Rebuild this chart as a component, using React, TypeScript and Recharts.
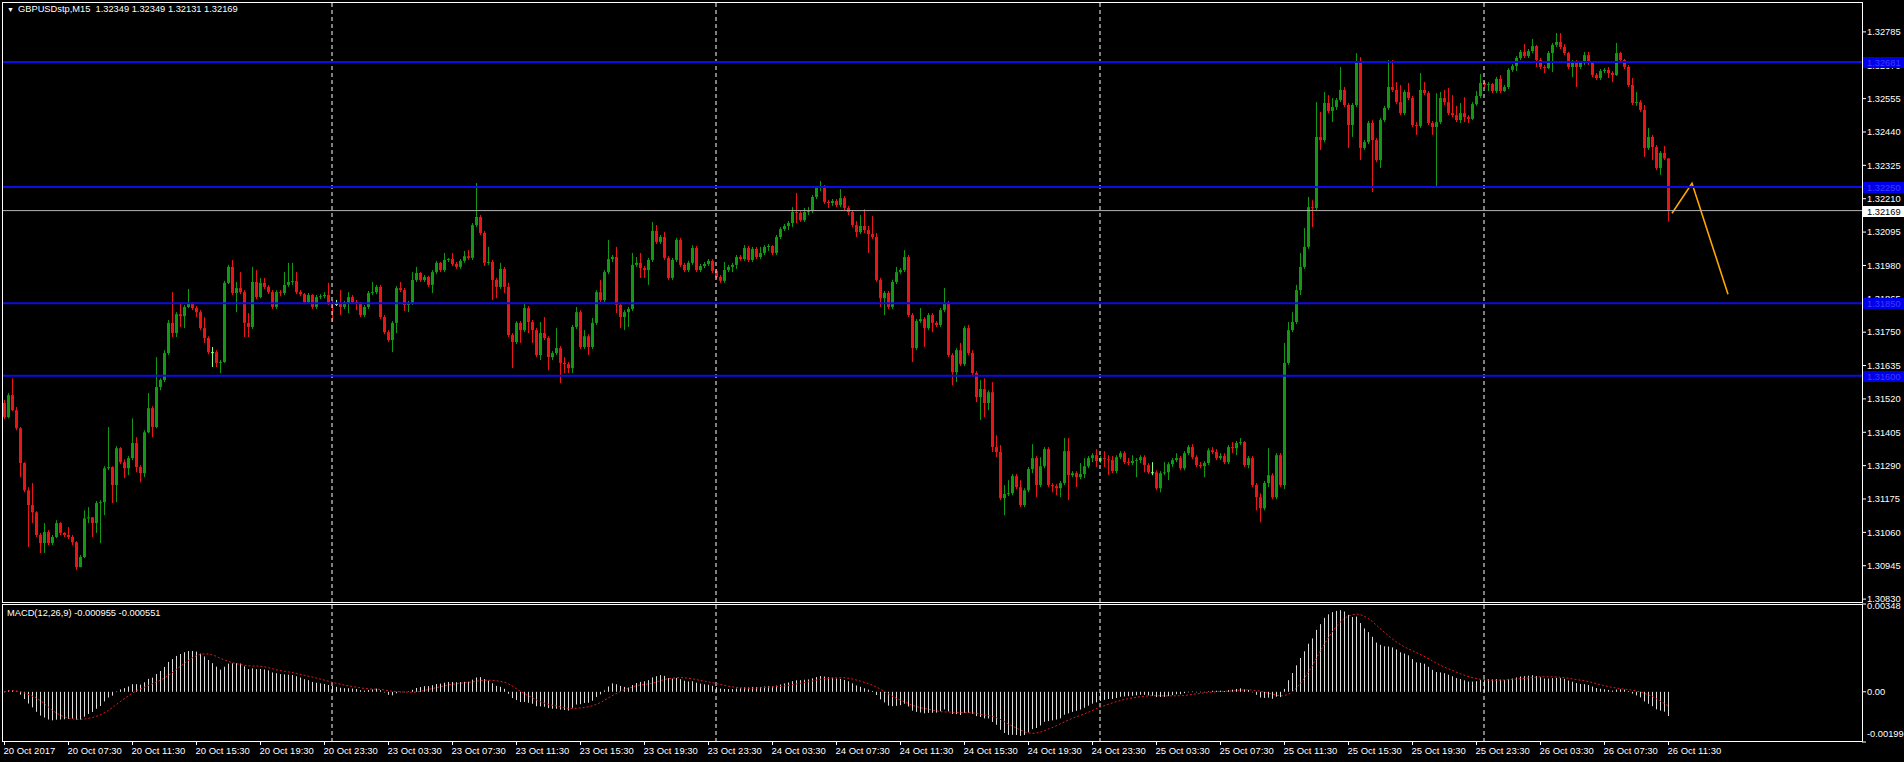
import React from 'react';
import { ComposedChart, Bar, Line, XAxis, YAxis, ReferenceLine } from 'recharts';

// M15 candles, oldest first; bar 0 = 20 Oct 03:30
const firstOpen = 1.31506;
const closes = [
  1.31457, 1.31533, 1.31481, 1.31419, 1.31299, 1.31205, 1.31154, 1.31129, 1.31051, 1.31023,
  1.31061, 1.31023, 1.31044, 1.31092, 1.31058, 1.31051, 1.31044, 1.31026, 1.30940, 1.30975,
  1.31108, 1.31112, 1.31092, 1.31161, 1.31164, 1.31281, 1.31285, 1.31223, 1.31350, 1.31302,
  1.31281, 1.31316, 1.31368, 1.31285, 1.31264, 1.31405, 1.31488, 1.31423, 1.31561, 1.31585,
  1.31678, 1.31782, 1.31747, 1.31812, 1.31805, 1.31837, 1.31851, 1.31833, 1.31819, 1.31764,
  1.31730, 1.31681, 1.31681, 1.31644, 1.31647, 1.31920, 1.31975, 1.31885, 1.31902, 1.31888,
  1.31782, 1.31768, 1.31923, 1.31871, 1.31920, 1.31906, 1.31888, 1.31837, 1.31888, 1.31885,
  1.31913, 1.31923, 1.31926, 1.31888, 1.31881, 1.31854, 1.31878, 1.31837, 1.31871, 1.31874,
  1.31878, 1.31851, 1.31847, 1.31847, 1.31837, 1.31851, 1.31871, 1.31854, 1.31851, 1.31809,
  1.31837, 1.31885, 1.31888, 1.31906, 1.31802, 1.31750, 1.31723, 1.31782, 1.31902, 1.31895,
  1.31844, 1.31851, 1.31930, 1.31954, 1.31930, 1.31940, 1.31913, 1.31957, 1.31989, 1.31964,
  1.31999, 1.32002, 1.31985, 1.31975, 1.31996, 1.32012, 1.32006, 1.32119, 1.32147, 1.32092,
  1.31989, 1.31992, 1.31930, 1.31906, 1.31968, 1.31906, 1.31740, 1.31716, 1.31782, 1.31757,
  1.31833, 1.31785, 1.31757, 1.31671, 1.31747, 1.31730, 1.31664, 1.31678, 1.31695, 1.31644,
  1.31640, 1.31626, 1.31768, 1.31819, 1.31699, 1.31736, 1.31699, 1.31782, 1.31888, 1.31861,
  1.31957, 1.32002, 1.32009, 1.31844, 1.31802, 1.31819, 1.31830, 1.31982, 1.31989, 1.31971,
  1.31964, 1.31999, 1.32099, 1.32061, 1.32078, 1.32006, 1.31937, 1.31999, 1.32068, 1.31982,
  1.31964, 1.31989, 1.32040, 1.31964, 1.31978, 1.31985, 1.31996, 1.31961, 1.31940, 1.31927,
  1.31964, 1.31975, 1.31982, 1.32009, 1.32002, 1.32040, 1.31999, 1.32037, 1.32009, 1.32023,
  1.32044, 1.32047, 1.32023, 1.32078, 1.32105, 1.32116, 1.32126, 1.32164, 1.32161, 1.32136,
  1.32164, 1.32167, 1.32216, 1.32247, 1.32254, 1.32199, 1.32195, 1.32202, 1.32188, 1.32212,
  1.32178, 1.32164, 1.32119, 1.32095, 1.32116, 1.32102, 1.32088, 1.32078, 1.31930, 1.31867,
  1.31885, 1.31837, 1.31923, 1.31957, 1.31964, 1.32009, 1.31809, 1.31695, 1.31788, 1.31795,
  1.31764, 1.31809, 1.31782, 1.31775, 1.31826, 1.31851, 1.31671, 1.31612, 1.31688, 1.31640,
  1.31764, 1.31678, 1.31609, 1.31526, 1.31554, 1.31506, 1.31543, 1.31354, 1.31337, 1.31178,
  1.31192, 1.31195, 1.31254, 1.31216, 1.31154, 1.31205, 1.31278, 1.31316, 1.31223, 1.31288,
  1.31347, 1.31223, 1.31219, 1.31212, 1.31230, 1.31340, 1.31257, 1.31264, 1.31250, 1.31261,
  1.31288, 1.31316, 1.31326, 1.31306, 1.31316, 1.31312, 1.31309, 1.31271, 1.31319, 1.31333,
  1.31302, 1.31299, 1.31306, 1.31309, 1.31319, 1.31292, 1.31267, 1.31267, 1.31212, 1.31264,
  1.31267, 1.31295, 1.31309, 1.31316, 1.31281, 1.31333, 1.31354, 1.31319, 1.31292, 1.31288,
  1.31299, 1.31343, 1.31337, 1.31316, 1.31323, 1.31302, 1.31354, 1.31350, 1.31368, 1.31371,
  1.31292, 1.31316, 1.31223, 1.31181, 1.31143, 1.31230, 1.31257, 1.31181, 1.31326, 1.31223,
  1.31644, 1.31757, 1.31785, 1.31895, 1.31975, 1.32044, 1.32181, 1.32178, 1.32423, 1.32412,
  1.32540, 1.32512, 1.32526, 1.32550, 1.32585, 1.32533, 1.32464, 1.32533, 1.32681, 1.32385,
  1.32405, 1.32471, 1.32412, 1.32343, 1.32481, 1.32523, 1.32595, 1.32585, 1.32543, 1.32505,
  1.32578, 1.32557, 1.32464, 1.32461, 1.32585, 1.32574, 1.32471, 1.32457, 1.32474, 1.32557,
  1.32543, 1.32505, 1.32498, 1.32481, 1.32505, 1.32491, 1.32485, 1.32536, 1.32564, 1.32609,
  1.32602, 1.32605, 1.32581, 1.32623, 1.32581, 1.32595, 1.32654, 1.32667, 1.32695, 1.32716,
  1.32702, 1.32719, 1.32736, 1.32688, 1.32664, 1.32660, 1.32712, 1.32740, 1.32750, 1.32733,
  1.32712, 1.32664, 1.32681, 1.32664, 1.32678, 1.32705, 1.32678, 1.32636, 1.32626, 1.32650,
  1.32654, 1.32643, 1.32636, 1.32712, 1.32688, 1.32664, 1.32602, 1.32540, 1.32543, 1.32516,
  1.32385, 1.32423, 1.32388, 1.32316, 1.32368, 1.32349, 1.32169,
];
const highs = [
  1.31516, 1.31540, 1.31591, 1.31492, 1.31423, 1.31302, 1.31216, 1.31230, 1.31133, 1.31058,
  1.31092, 1.31068, 1.31051, 1.31102, 1.31095, 1.31061, 1.31078, 1.31051, 1.31030, 1.30982,
  1.31136, 1.31147, 1.31112, 1.31168, 1.31171, 1.31288, 1.31423, 1.31288, 1.31357, 1.31354,
  1.31312, 1.31323, 1.31453, 1.31388, 1.31292, 1.31412, 1.31540, 1.31495, 1.31664, 1.31591,
  1.31688, 1.31792, 1.31888, 1.31819, 1.31851, 1.31844, 1.31899, 1.31854, 1.31840, 1.31826,
  1.31802, 1.31736, 1.31699, 1.31688, 1.31654, 1.31927, 1.31982, 1.31999, 1.31923, 1.31957,
  1.31895, 1.31816, 1.31975, 1.31964, 1.31937, 1.31937, 1.31913, 1.31895, 1.31895, 1.31895,
  1.31957, 1.31989, 1.31989, 1.31957, 1.31895, 1.31885, 1.31885, 1.31881, 1.31878, 1.31881,
  1.31888, 1.31920, 1.31858, 1.31861, 1.31895, 1.31858, 1.31888, 1.31878, 1.31861, 1.31854,
  1.31844, 1.31892, 1.31923, 1.31913, 1.31913, 1.31809, 1.31757, 1.31788, 1.31909, 1.31923,
  1.31902, 1.31858, 1.31957, 1.31975, 1.31957, 1.31947, 1.31944, 1.31964, 1.31996, 1.31992,
  1.32023, 1.32006, 1.32023, 1.31992, 1.32002, 1.32030, 1.32033, 1.32126, 1.32264, 1.32154,
  1.32099, 1.32044, 1.31999, 1.31937, 1.31989, 1.31975, 1.31920, 1.31747, 1.31788, 1.31788,
  1.31851, 1.31840, 1.31792, 1.31764, 1.31785, 1.31802, 1.31736, 1.31685, 1.31764, 1.31702,
  1.31664, 1.31647, 1.31775, 1.31837, 1.31826, 1.31757, 1.31743, 1.31799, 1.31895, 1.31930,
  1.31964, 1.32068, 1.32016, 1.32044, 1.31851, 1.31826, 1.31837, 1.32023, 1.32009, 1.32023,
  1.31978, 1.32006, 1.32130, 1.32119, 1.32085, 1.32095, 1.32012, 1.32006, 1.32075, 1.32075,
  1.31989, 1.31996, 1.32050, 1.32047, 1.31985, 1.31992, 1.32002, 1.32002, 1.31968, 1.31947,
  1.31992, 1.31982, 1.31989, 1.32016, 1.32016, 1.32050, 1.32047, 1.32044, 1.32044, 1.32044,
  1.32050, 1.32054, 1.32050, 1.32085, 1.32112, 1.32123, 1.32133, 1.32181, 1.32230, 1.32167,
  1.32178, 1.32181, 1.32223, 1.32254, 1.32271, 1.32257, 1.32205, 1.32209, 1.32209, 1.32243,
  1.32219, 1.32185, 1.32171, 1.32133, 1.32154, 1.32174, 1.32116, 1.32150, 1.32092, 1.31937,
  1.31892, 1.31892, 1.31930, 1.31975, 1.31971, 1.32033, 1.32016, 1.31816, 1.31795, 1.31833,
  1.31802, 1.31816, 1.31816, 1.31788, 1.31833, 1.31902, 1.31858, 1.31678, 1.31695, 1.31713,
  1.31771, 1.31775, 1.31688, 1.31616, 1.31585, 1.31591, 1.31550, 1.31578, 1.31395, 1.31361,
  1.31223, 1.31240, 1.31261, 1.31261, 1.31240, 1.31212, 1.31285, 1.31364, 1.31323, 1.31319,
  1.31354, 1.31354, 1.31230, 1.31226, 1.31237, 1.31385, 1.31385, 1.31271, 1.31271, 1.31299,
  1.31316, 1.31323, 1.31333, 1.31347, 1.31323, 1.31340, 1.31326, 1.31323, 1.31326, 1.31340,
  1.31340, 1.31316, 1.31326, 1.31316, 1.31326, 1.31326, 1.31299, 1.31302, 1.31274, 1.31271,
  1.31302, 1.31302, 1.31316, 1.31333, 1.31323, 1.31340, 1.31361, 1.31364, 1.31326, 1.31302,
  1.31306, 1.31350, 1.31354, 1.31347, 1.31333, 1.31333, 1.31361, 1.31371, 1.31375, 1.31385,
  1.31375, 1.31323, 1.31323, 1.31230, 1.31195, 1.31237, 1.31350, 1.31264, 1.31333, 1.31333,
  1.31713, 1.31785, 1.31819, 1.31913, 1.32023, 1.32109, 1.32216, 1.32205, 1.32543, 1.32509,
  1.32578, 1.32567, 1.32557, 1.32557, 1.32664, 1.32595, 1.32540, 1.32540, 1.32712, 1.32698,
  1.32412, 1.32478, 1.32481, 1.32419, 1.32488, 1.32530, 1.32688, 1.32688, 1.32612, 1.32602,
  1.32585, 1.32609, 1.32564, 1.32474, 1.32643, 1.32612, 1.32581, 1.32478, 1.32574, 1.32578,
  1.32585, 1.32592, 1.32567, 1.32530, 1.32540, 1.32560, 1.32498, 1.32543, 1.32581, 1.32640,
  1.32616, 1.32612, 1.32609, 1.32630, 1.32636, 1.32602, 1.32660, 1.32674, 1.32702, 1.32723,
  1.32743, 1.32726, 1.32761, 1.32740, 1.32695, 1.32671, 1.32719, 1.32747, 1.32781, 1.32781,
  1.32743, 1.32716, 1.32688, 1.32688, 1.32685, 1.32716, 1.32716, 1.32681, 1.32643, 1.32657,
  1.32660, 1.32664, 1.32650, 1.32747, 1.32716, 1.32692, 1.32671, 1.32626, 1.32578, 1.32550,
  1.32533, 1.32454, 1.32430, 1.32395, 1.32374, 1.32392, 1.32349,
];
const lows = [
  1.31450, 1.31453, 1.31478, 1.31412, 1.31250, 1.31198, 1.31009, 1.31092, 1.31044, 1.30989,
  1.30989, 1.31016, 1.31016, 1.31040, 1.31051, 1.31044, 1.31037, 1.31016, 1.30930, 1.30940,
  1.30971, 1.31092, 1.31044, 1.31058, 1.31023, 1.31119, 1.31274, 1.31161, 1.31164, 1.31295,
  1.31247, 1.31257, 1.31309, 1.31267, 1.31233, 1.31250, 1.31402, 1.31388, 1.31419, 1.31550,
  1.31578, 1.31671, 1.31733, 1.31733, 1.31768, 1.31764, 1.31833, 1.31826, 1.31802, 1.31757,
  1.31713, 1.31674, 1.31630, 1.31630, 1.31609, 1.31644, 1.31916, 1.31878, 1.31819, 1.31881,
  1.31733, 1.31733, 1.31761, 1.31864, 1.31867, 1.31899, 1.31881, 1.31830, 1.31830, 1.31874,
  1.31878, 1.31906, 1.31913, 1.31881, 1.31874, 1.31847, 1.31851, 1.31830, 1.31830, 1.31864,
  1.31867, 1.31844, 1.31785, 1.31840, 1.31809, 1.31830, 1.31816, 1.31847, 1.31826, 1.31802,
  1.31802, 1.31830, 1.31878, 1.31881, 1.31795, 1.31743, 1.31716, 1.31681, 1.31747, 1.31888,
  1.31823, 1.31819, 1.31844, 1.31923, 1.31923, 1.31923, 1.31906, 1.31885, 1.31950, 1.31957,
  1.31957, 1.31992, 1.31978, 1.31968, 1.31968, 1.31989, 1.31999, 1.31999, 1.32112, 1.32085,
  1.31978, 1.31982, 1.31861, 1.31867, 1.31899, 1.31885, 1.31733, 1.31626, 1.31709, 1.31713,
  1.31750, 1.31747, 1.31713, 1.31664, 1.31654, 1.31723, 1.31619, 1.31654, 1.31671, 1.31574,
  1.31609, 1.31609, 1.31609, 1.31761, 1.31692, 1.31692, 1.31671, 1.31692, 1.31775, 1.31854,
  1.31854, 1.31950, 1.31992, 1.31816, 1.31764, 1.31757, 1.31768, 1.31823, 1.31975, 1.31937,
  1.31937, 1.31913, 1.31992, 1.32054, 1.32054, 1.31999, 1.31930, 1.31930, 1.31992, 1.31975,
  1.31957, 1.31957, 1.31982, 1.31957, 1.31957, 1.31971, 1.31978, 1.31954, 1.31933, 1.31920,
  1.31920, 1.31957, 1.31957, 1.31968, 1.31996, 1.31996, 1.31992, 1.31992, 1.32002, 1.32002,
  1.32016, 1.32030, 1.32016, 1.32016, 1.32071, 1.32099, 1.32102, 1.32112, 1.32126, 1.32130,
  1.32130, 1.32154, 1.32161, 1.32209, 1.32236, 1.32192, 1.32178, 1.32185, 1.32181, 1.32181,
  1.32171, 1.32154, 1.32112, 1.32078, 1.32088, 1.32092, 1.32023, 1.32071, 1.31923, 1.31837,
  1.31809, 1.31830, 1.31830, 1.31916, 1.31950, 1.31957, 1.31802, 1.31647, 1.31688, 1.31782,
  1.31699, 1.31757, 1.31750, 1.31768, 1.31768, 1.31819, 1.31664, 1.31567, 1.31578, 1.31633,
  1.31633, 1.31671, 1.31602, 1.31509, 1.31447, 1.31457, 1.31481, 1.31337, 1.31319, 1.31171,
  1.31119, 1.31185, 1.31188, 1.31209, 1.31147, 1.31147, 1.31198, 1.31264, 1.31181, 1.31216,
  1.31281, 1.31216, 1.31198, 1.31188, 1.31181, 1.31223, 1.31171, 1.31250, 1.31216, 1.31243,
  1.31247, 1.31281, 1.31302, 1.31285, 1.31299, 1.31285, 1.31257, 1.31264, 1.31264, 1.31312,
  1.31295, 1.31292, 1.31292, 1.31250, 1.31299, 1.31267, 1.31261, 1.31257, 1.31205, 1.31198,
  1.31257, 1.31240, 1.31285, 1.31302, 1.31274, 1.31274, 1.31326, 1.31312, 1.31285, 1.31281,
  1.31250, 1.31292, 1.31330, 1.31309, 1.31309, 1.31295, 1.31295, 1.31333, 1.31326, 1.31361,
  1.31285, 1.31281, 1.31216, 1.31136, 1.31095, 1.31136, 1.31216, 1.31174, 1.31174, 1.31216,
  1.31209, 1.31637, 1.31750, 1.31778, 1.31878, 1.31968, 1.32037, 1.32112, 1.32171, 1.32378,
  1.32405, 1.32505, 1.32474, 1.32516, 1.32543, 1.32526, 1.32385, 1.32423, 1.32526, 1.32343,
  1.32378, 1.32398, 1.32233, 1.32336, 1.32316, 1.32474, 1.32516, 1.32578, 1.32536, 1.32498,
  1.32498, 1.32550, 1.32457, 1.32430, 1.32454, 1.32567, 1.32464, 1.32430, 1.32250, 1.32467,
  1.32533, 1.32498, 1.32491, 1.32474, 1.32471, 1.32474, 1.32471, 1.32481, 1.32530, 1.32557,
  1.32595, 1.32581, 1.32574, 1.32574, 1.32574, 1.32578, 1.32588, 1.32647, 1.32650, 1.32688,
  1.32695, 1.32695, 1.32712, 1.32664, 1.32657, 1.32643, 1.32657, 1.32647, 1.32733, 1.32726,
  1.32705, 1.32657, 1.32629, 1.32595, 1.32657, 1.32671, 1.32671, 1.32629, 1.32619, 1.32619,
  1.32643, 1.32626, 1.32612, 1.32633, 1.32681, 1.32657, 1.32595, 1.32533, 1.32530, 1.32509,
  1.32354, 1.32378, 1.32343, 1.32309, 1.32292, 1.32343, 1.32131,
];

const timeLabels = [
  '20 Oct 2017', '20 Oct 07:30', '20 Oct 11:30', '20 Oct 15:30', '20 Oct 19:30', '20 Oct 23:30',
  '23 Oct 03:30', '23 Oct 07:30', '23 Oct 11:30', '23 Oct 15:30', '23 Oct 19:30', '23 Oct 23:30',
  '24 Oct 03:30', '24 Oct 07:30', '24 Oct 11:30', '24 Oct 15:30', '24 Oct 19:30', '24 Oct 23:30',
  '25 Oct 03:30', '25 Oct 07:30', '25 Oct 11:30', '25 Oct 15:30', '25 Oct 19:30', '25 Oct 23:30',
  '26 Oct 03:30', '26 Oct 07:30', '26 Oct 11:30',
];
const barsPerLabel = 16;

const priceTicks = [
  1.32785, 1.3267, 1.32555, 1.3244, 1.32325, 1.3221, 1.32095, 1.3198, 1.31865,
  1.3175, 1.31635, 1.3152, 1.31405, 1.3129, 1.31175, 1.3106, 1.30945, 1.3083,
];
const macdTicks = [0.00348, 0, -0.00199];
const levelLines = [1.32681, 1.3225, 1.3185, 1.316];
const bidPrice = 1.32169;
const daySeparators = [82, 178, 274, 370];
const trendBars = [417, 422, 431];
const trendPrices = [1.3216, 1.32263, 1.31881];

const headerText = 'GBPUSDstp,M15  1.32349 1.32349 1.32131 1.32169';
const macdText = 'MACD(12,26,9) -0.000955 -0.000551';

const SLOTS = 465;
const PRICE_DOMAIN = [1.3082, 1.32888];
const FONT = '"Liberation Sans", Arial, sans-serif';
const BULL = '#129812';
const BEAR = '#e81616';
const DOJI = '#8cff8c';
const LEVEL = '#0c0ce6';
const HIST = '#dcdcdc';

const opens = closes.map((_, i) => (i === 0 ? firstOpen : closes[i - 1]));

// terminal MACD: EMA(12) - EMA(26) as histogram, SMA(9) of it as signal
const macdValues: number[] = [];
let fast = closes[0];
let slow = closes[0];
for (const c of closes) {
  fast += ((c - fast) * 2) / 13;
  slow += ((c - slow) * 2) / 27;
  macdValues.push(fast - slow);
}
const signalValues = macdValues.map((_, i) => {
  const win = macdValues.slice(Math.max(0, i - 8), i + 1);
  return win.reduce((a, b) => a + b, 0) / win.length;
});

const rows = Array.from({ length: SLOTS }, (_, i) => {
  const has = i < closes.length;
  const t = trendBars.indexOf(i);
  return {
    i,
    o: has ? opens[i] : null,
    c: has ? closes[i] : null,
    range: has
      ? [Math.min(lows[i], opens[i], closes[i]), Math.max(highs[i], opens[i], closes[i])]
      : null,
    macd: has ? macdValues[i] : null,
    signal: has ? signalValues[i] : null,
    trend: t >= 0 ? trendPrices[t] : null,
  };
});

const Candle = (props: any) => {
  const { x, y, width, height, payload } = props;
  if (!payload || !payload.range || y == null || isNaN(y)) return null;
  const { o, c } = payload;
  const [l, h] = payload.range;
  const top = Math.min(y, y + height);
  const span = Math.abs(height);
  const px = (v: number) => top + (h === l ? 0 : ((h - v) / (h - l)) * span);
  const cx = Math.floor(x + width / 2);
  const color = c > o ? BULL : c < o ? BEAR : DOJI;
  const bTop = px(Math.max(o, c));
  const bBot = px(Math.min(o, c));
  return (
    <g>
      <line x1={cx + 0.5} x2={cx + 0.5} y1={top} y2={top + span} stroke={color} strokeWidth={1} />
      <rect x={cx - 1} y={bTop} width={3} height={Math.max(1, bBot - bTop)} fill={color} />
    </g>
  );
};

const HistLine = (props: any) => {
  const { x, y, width, height } = props;
  if (y == null || isNaN(y) || height == null) return null;
  const cx = Math.floor(x + width / 2);
  const top = Math.min(y, y + height);
  return <rect x={cx} y={top} width={1} height={Math.max(0.5, Math.abs(height))} fill={HIST} />;
};

const PriceTag = ({ viewBox, price, bg, fg }: any) => {
  if (!viewBox) return null;
  const x = viewBox.x + viewBox.width + 1;
  const y = Math.round(viewBox.y);
  return (
    <g>
      <rect x={x} y={y - 5} width={42} height={11} fill={bg} />
      <text x={x + 4} y={y + 4} fill={fg} fontSize={9.3} fontFamily={FONT}>
        {price.toFixed(5)}
      </text>
    </g>
  );
};

const TimeTick = (props: any) => {
  const { x, y, payload } = props;
  const label = timeLabels[payload.value / barsPerLabel];
  if (!label) return null;
  const px = Math.floor(x) + 0.5;
  return (
    <g>
      <line x1={px} x2={px} y1={y} y2={y + 3} stroke="#fff" />
      <text x={px - 1} y={y + 12} fill="#fff" fontSize={9.5} fontFamily={FONT}>
        {label}
      </text>
    </g>
  );
};

const MacdTick = (props: any) => {
  const { x, y, payload } = props;
  const v = payload.value;
  const dy = v > 0 ? 5 : v < 0 ? -5 : 3;
  return (
    <text x={x + 1} y={y + dy} fill="#fff" fontSize={9.3} fontFamily={FONT}>
      {v === 0 ? '0.00' : v.toFixed(5)}
    </text>
  );
};

const sepLines = daySeparators.map((d) => (
  <ReferenceLine key={`sep${d}`} x={d} stroke="#ffffff" strokeDasharray="4 3" strokeWidth={1} />
));

const textStyle: React.CSSProperties = {
  position: 'absolute', color: '#fff', fontFamily: FONT, fontSize: 9.3, lineHeight: '9px', whiteSpace: 'pre',
};

export default function App() {
  return (
    <div style={{ position: 'relative', width: 1904, height: 762, background: '#000', overflow: 'hidden' }}>
      <style>{'body{margin:0;background:#000}'}</style>
      <div style={{ position: 'absolute', left: 0, top: 0 }}>
        <ComposedChart width={1904} height={604} data={rows} margin={{ top: 2, right: 0, bottom: 2, left: 2 }}>
          <XAxis dataKey="i" type="category" hide />
          <YAxis
            orientation="right"
            width={42}
            type="number"
            domain={PRICE_DOMAIN}
            allowDataOverflow
            ticks={priceTicks}
            interval={0}
            tickFormatter={(v: number) => v.toFixed(5)}
            axisLine={false}
            tickLine={{ stroke: '#fff' }}
            tickSize={4}
            tickMargin={1}
            tick={{ fill: '#fff', fontSize: 9.3, fontFamily: FONT }}
          />
          {sepLines}
          <Bar dataKey="range" barSize={3} shape={<Candle />} isAnimationActive={false} />
          <Line
            dataKey="trend"
            stroke="#ffa500"
            strokeWidth={1.6}
            dot={false}
            connectNulls
            isAnimationActive={false}
          />
        </ComposedChart>
      </div>
      {/* price levels and their axis tags sit on top of the axis labels */}
      <div style={{ position: 'absolute', left: 0, top: 0 }}>
        <ComposedChart width={1904} height={604} data={rows} margin={{ top: 2, right: 0, bottom: 2, left: 2 }}>
          <XAxis dataKey="i" type="category" hide />
          <YAxis
            orientation="right"
            width={42}
            type="number"
            domain={PRICE_DOMAIN}
            allowDataOverflow
            tick={false}
            tickLine={false}
            axisLine={false}
          />
          <ReferenceLine
            y={bidPrice}
            stroke="#b4b4b4"
            strokeWidth={1}
            label={<PriceTag price={bidPrice} bg="#ffffff" fg="#000000" />}
          />
          {levelLines.map((v) => (
            <ReferenceLine
              key={`lvl${v}`}
              y={v}
              stroke={LEVEL}
              strokeWidth={2}
              label={<PriceTag price={v} bg="#0000e8" fg="#3c3cff" />}
            />
          ))}
        </ComposedChart>
      </div>
      <div style={{ position: 'absolute', left: 0, top: 602 }}>
        <ComposedChart width={1904} height={160} data={rows} margin={{ top: 2, right: 0, bottom: 2, left: 2 }}>
          <XAxis
            dataKey="i"
            type="category"
            height={18}
            ticks={timeLabels.map((_, k) => k * barsPerLabel)}
            interval={0}
            axisLine={false}
            tickLine={false}
            tickSize={0}
            tickMargin={0}
            tick={<TimeTick />}
          />
          <YAxis
            orientation="right"
            width={42}
            type="number"
            domain={[-0.00199, 0.00348]}
            allowDataOverflow
            ticks={macdTicks}
            interval={0}
            axisLine={false}
            tickLine={{ stroke: '#fff' }}
            tickSize={4}
            tickMargin={0}
            tick={<MacdTick />}
          />
          {sepLines}
          <Bar dataKey="macd" barSize={1} shape={<HistLine />} isAnimationActive={false} />
          <Line
            dataKey="signal"
            stroke="#e01818"
            strokeWidth={1}
            strokeDasharray="2 2"
            dot={false}
            isAnimationActive={false}
          />
        </ComposedChart>
      </div>
      <div
        style={{
          position: 'absolute', left: 2, top: 2, width: 1861, height: 601,
          border: '1px solid #fff', boxSizing: 'border-box', pointerEvents: 'none',
        }}
      />
      <div
        style={{
          position: 'absolute', left: 2, top: 604, width: 1861, height: 138,
          border: '1px solid #fff', boxSizing: 'border-box', pointerEvents: 'none',
        }}
      />
      <div style={{ ...textStyle, left: 7, top: 6, fontSize: 7, lineHeight: '7px' }}>▼</div>
      <div style={{ ...textStyle, left: 18, top: 5 }}>{headerText}</div>
      <div style={{ ...textStyle, left: 7, top: 609 }}>{macdText}</div>
    </div>
  );
}
